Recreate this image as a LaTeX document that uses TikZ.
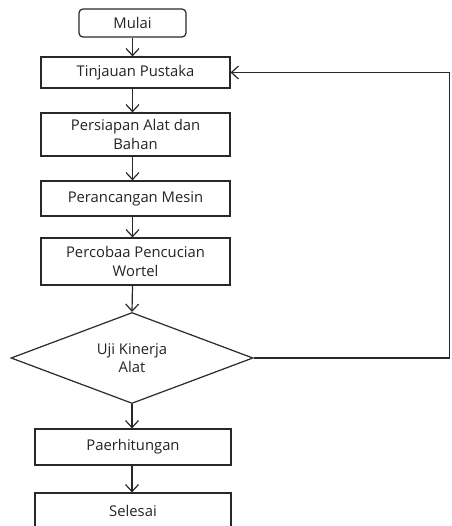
\documentclass[tikz,border=0pt]{standalone}
\usepackage{fontspec}
\setmainfont{Open Sans}
\usepackage{tikz}
\usetikzlibrary{arrows.meta}
\usetikzlibrary{shapes.geometric}
\definecolor{lineink}{RGB}{40,40,40}
\definecolor{textink}{RGB}{35,35,35}

\begin{document}
\begin{tikzpicture}[x=1pt,y=-1pt,
    every node/.style={font=\fontsize{14.8}{18.5}\selectfont,text=textink,align=center,inner sep=0pt},
    stepbox/.style={draw=lineink,line width=1.2pt,minimum width=189pt,minimum height=#1},
    stepbox/.default=33pt,
    startbox/.style={draw=lineink,line width=1.2pt,rounded corners=4pt,minimum width=107pt,minimum height=28pt},
    decide/.style={draw=lineink,line width=1.2pt,shape=diamond,aspect=2.66,minimum width=242pt,minimum height=91pt},
    arr/.style={draw=lineink,line width=1.2pt,-{Straight Barb[length=7pt,width=13pt,line width=1.2pt]}}]
    \useasboundingbox (0,0) rectangle (451,526);
    % process column
    \node[startbox] (mulai) at (132.5,23) {Mulai};
    \node[stepbox=31pt] (tinjauan) at (135.5,72.5) {Tinjauan Pustaka};
    \node[stepbox=43pt] (persiapan) at (135.5,134.5) {Persiapan Alat dan\\Bahan};
    \node[stepbox=35pt] (rancang) at (135.5,198.5) {Perancangan Mesin};
    \node[stepbox=47pt] (cuci) at (135.5,261.5) {Percobaa Pencucian\\Wortel};
    \node[decide] (uji) at (132,358) {Uji Kinerja\\Alat};
    \node[stepbox=36pt,minimum width=196pt] (hitung) at (133,447) {Paerhitungan};
    \node[stepbox=36pt,minimum width=196pt] (selesai) at (133,511) {Selesai};
    \coordinate (balik) at (449.5,358);
    % connectors
    \draw[arr] (mulai.south) -- (mulai.south |- tinjauan.north);
    \draw[arr] (mulai.south |- tinjauan.south) -- (mulai.south |- persiapan.north);
    \draw[arr] (mulai.south |- persiapan.south) -- (mulai.south |- rancang.north);
    \draw[arr] (mulai.south |- rancang.south) -- (mulai.south |- cuci.north);
    \draw[arr] (mulai.south |- cuci.south) -- (uji.north);
    \draw[arr] (uji.south) -- (uji.south |- hitung.north);
    \draw[arr] (uji.south |- hitung.south) -- (uji.south |- selesai.north);
    \draw[arr] (uji.east) -- (balik) |- (tinjauan.east);
  \end{tikzpicture}
\end{document}
